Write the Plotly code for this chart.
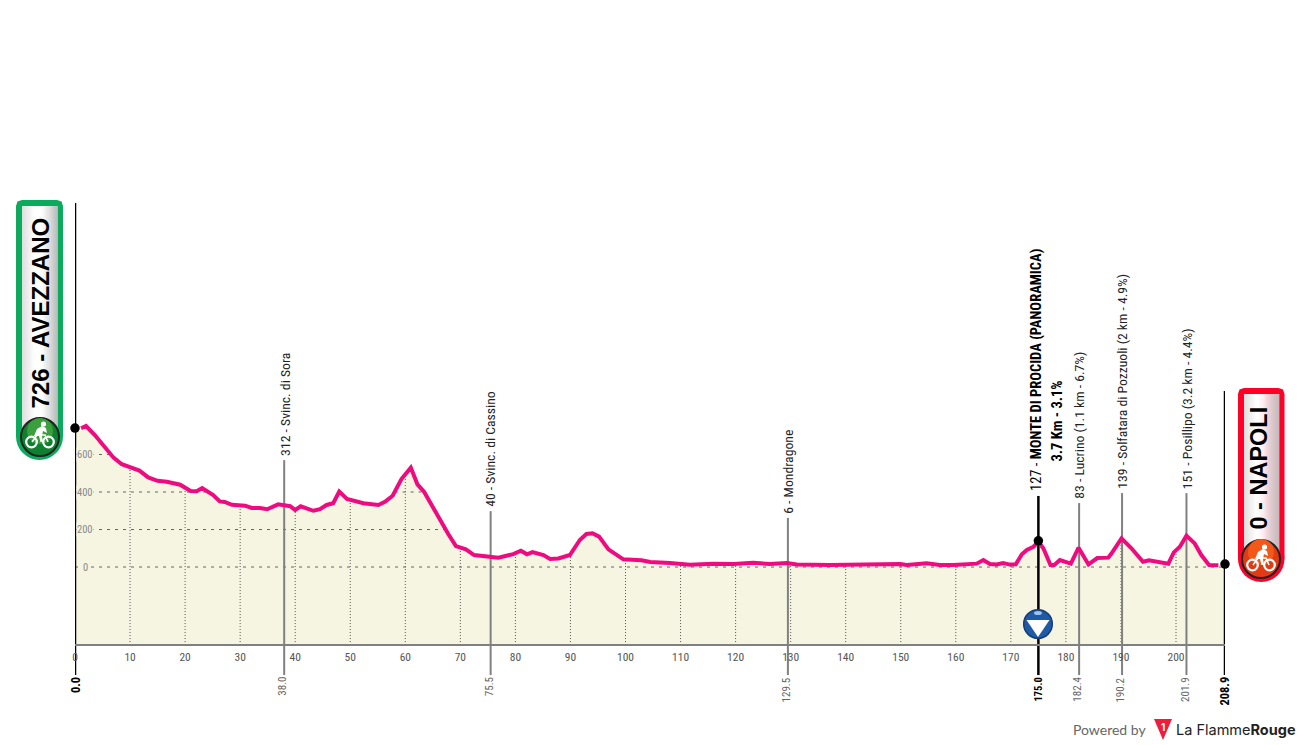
import numpy as np
import plotly.graph_objects as go

# ---------- data ----------
km = [0.0, 1.1, 2.0, 3.6, 5.1, 7.0, 8.5, 10.0, 11.7, 13.3, 15.0, 16.7, 19.1, 21.0, 22.1, 23.1, 25.1, 26.3, 27.2,
      28.5, 30.9, 32.1, 33.6, 34.9, 36.9, 39.1, 40.0, 41.0, 43.3, 44.5, 45.7, 46.9, 48.0, 49.4, 52.4, 55.1, 56.3,
      57.7, 59.3, 61.0, 62.2, 63.4, 65.4, 67.8, 69.2, 71.0, 72.5, 74.8, 76.9, 79.6, 81.0, 82.1, 83.1, 85.1, 86.3,
      87.8, 89.9, 91.7, 92.9, 94.0, 95.2, 96.9, 99.6, 102.9, 104.5, 108.1, 111.7, 115.9, 119.6, 123.2, 126.2,
      129.3, 131.1, 137.1, 145.9, 149.9, 151.1, 154.7, 157.1, 159.5, 163.8, 165.0, 166.2, 167.4, 168.6, 169.8,
      170.9, 172.0, 172.9, 174.1, 175.0, 175.9, 177.2, 177.9, 178.9, 180.9, 182.3, 184.1, 185.7, 187.7, 188.3,
      190.1, 191.9, 194.0, 195.1, 197.1, 198.6, 199.6, 200.7, 201.9, 203.4, 204.6, 206.0, 207.7, 208.9]
elev = [735, 740, 752, 704, 651, 583, 548, 532, 514, 478, 460, 455, 439, 405, 404, 421, 384, 350, 347,
        332, 327, 315, 315, 308, 334, 324, 304, 324, 300, 309, 331, 340, 402, 363, 340, 331, 348,
        380, 469, 530, 441, 402, 295, 176, 112, 94, 64, 55, 50, 69, 87, 68, 80, 64, 43,
        46, 64, 144, 176, 180, 162, 94, 41, 36, 27, 21, 12, 18, 16, 23, 16,
        21, 14, 11, 18, 16, 11, 20, 11, 11, 18, 37, 16, 14, 21, 13,
        14, 68, 91, 108, 135, 100, 11, 11, 37, 18, 103, 14, 48, 50, 73,
        153, 100, 28, 36, 23, 18, 78, 108, 167, 126, 64, 11, 9, 16]

km_ticks = list(range(0, 201, 10))
elev_ticks = [0, 200, 400, 600]

minor_km = [38.0, 75.5, 129.5, 182.4, 190.2, 201.9]
minor_top = [570, 298, 262, 341, 394, 394]
minor_km_text = ["38.0", "75.5", "129.5", "182.4", "190.2", "201.9"]
minor_text = ["312 - Svinc. di Sora", "40 - Svinc. di Cassino", "6 - Mondragone",
              "83 - Lucrino (1.1 km - 6.7%)", "139 - Solfatara di Pozzuoli (2 km - 4.9%)",
              "151 - Posillipo (3.2 km - 4.4%)"]

major_km = [0.0, 175.0, 208.9]
major_top = [1941, 379, 939]
major_elev = [741, 140, 16]
major_km_text = ["0.0", "175.0", "208.9"]

start_text = "726 - AVEZZANO"
finish_text = "0 - NAPOLI"
climb_text = "127 - <b>MONTE DI PROCIDA (PANORAMICA)</b>"
climb_sub = "<b>3.7 Km - 3.1%</b>"

# ---------- style ----------
NARROW = "Roboto Condensed, DejaVu Sans Condensed, Liberation Sans"
AREA_BOTTOM = -416
Y_MIN, Y_MAX = -709, 1941
STEM_BOTTOM = -576
L, R, T, B, AXIS = 75, 1225, 203, 700, 645


def X(px):
    return (px - L) / (R - L)


def Y(py):
    return (B - py) / (B - T)


km_a = np.array(km)
el_a = np.array(elev)
fig = go.Figure()

# area under the profile
fig.add_trace(go.Scatter(x=[km[0], km[-1]], y=[AREA_BOTTOM, AREA_BOTTOM], mode="lines", line=dict(width=0),
                         showlegend=False, hoverinfo="skip"))
fig.add_trace(go.Scatter(x=km, y=elev, mode="lines", line=dict(width=0), fill="tonexty", fillcolor="#f5f5e1",
                         showlegend=False, hoverinfo="skip"))

# vertical grid, clipped by the profile
for t in km_ticks[1:]:
    fig.add_trace(go.Scatter(x=[t, t], y=[AREA_BOTTOM, float(np.interp(t, km_a, el_a))], mode="lines",
                             line=dict(color="#555555", width=1, dash="1px,2px"), showlegend=False, hoverinfo="skip"))

# horizontal grid, clipped by the profile
for lv in elev_ticks:
    xs, ys = [], []
    inside = el_a[0] > lv
    start = km[0]
    for i in range(1, len(km)):
        now = el_a[i] > lv
        if now != inside:
            cross = km[i - 1] + (lv - elev[i - 1]) / (elev[i] - elev[i - 1]) * (km[i] - km[i - 1])
            if inside:
                xs += [start, cross, None]
                ys += [lv, lv, None]
            else:
                start = cross
            inside = now
    if inside:
        xs += [start, km[-1], None]
        ys += [lv, lv, None]
    fig.add_trace(go.Scatter(x=xs, y=ys, mode="lines", line=dict(color="#666666", width=1, dash="3px,5px"),
                             showlegend=False, hoverinfo="skip"))

# stems
for k, top in zip(minor_km, minor_top):
    fig.add_trace(go.Scatter(x=[k, k], y=[STEM_BOTTOM, top], mode="lines",
                             line=dict(color="#808080", width=2), showlegend=False, hoverinfo="skip"))
for k, top in zip(major_km, major_top):
    fig.add_trace(go.Scatter(x=[k, k], y=[STEM_BOTTOM, top], mode="lines",
                             line=dict(color="#000000", width=2.5), showlegend=False, hoverinfo="skip"))

# profile line and dots
fig.add_trace(go.Scatter(x=km[1:-1], y=elev[1:-1], mode="lines", line=dict(color="#f00a80", width=4),
                         showlegend=False, hoverinfo="skip"))
fig.add_trace(go.Scatter(x=major_km, y=major_elev, mode="markers", cliponaxis=False,
                         marker=dict(color="#000000", size=9.5), showlegend=False, hoverinfo="skip"))

ann = []
shp = []


def rot(x, y, text, size, color="#222222", family=NARROW, paper=False, xa="center", ya="bottom"):
    d = dict(x=x, y=y, text=text, textangle=-90, showarrow=False, xanchor=xa, yanchor=ya, borderpad=0, borderwidth=0,
             font=dict(family=family, size=size, color=color))
    d.update(xref="paper", yref="paper") if paper else d.update(xref="x", yref="y")
    ann.append(d)


# stem labels
for k, top, t in zip(minor_km, minor_top, minor_text):
    rot(k, top + 21, t, 13.7, "#222222")
for k, t in zip(minor_km, minor_km_text):
    rot(k - 0.2, STEM_BOTTOM - 11, t, 11, "#666666", ya="top")
for k, t, s in zip(major_km, major_km_text, [12.5, 10.5, 12.5]):
    rot(k, STEM_BOTTOM - 11, "<b>" + t + "</b>", s, "#000000", ya="top")

rot(X(1036), Y(491), climb_text, 14.5, "#000000", paper=True)
rot(X(1057), Y(462), climb_sub, 14.5, "#000000", paper=True)

# elevation labels, sitting on the area colour
for v in elev_ticks:
    ann.append(dict(x=1.9, y=v, xref="x", yref="y", text=str(v), showarrow=False, bgcolor="#f5f5e1", borderpad=0,
                    font=dict(family=NARROW, size=10.5, color="#8a8a8a")))


def rect(x0, y0, x1, y1, color):
    shp.append(dict(type="rect", xref="paper", yref="paper", x0=X(x0), x1=X(x1), y0=Y(y0), y1=Y(y1),
                    fillcolor=color, line=dict(width=0), layer="above"))


def circle(cx, cy, rx, color, ry=None, line=None, lw=0):
    ry = ry or rx
    shp.append(dict(type="circle", xref="paper", yref="paper", x0=X(cx - rx), x1=X(cx + rx), y0=Y(cy - ry),
                    y1=Y(cy + ry), fillcolor=color, line=dict(width=lw, color=line or color), layer="above"))


def poly(points, color=None, line=None, lw=0, close=True):
    p = "M " + " L ".join(f"{X(a):.5f},{Y(b):.5f}" for a, b in points) + (" Z" if close else "")
    shp.append(dict(type="path", xref="paper", yref="paper", path=p, fillcolor=color if color else "rgba(0,0,0,0)",
                    line=dict(width=lw, color=line or "rgba(0,0,0,0)"), layer="above"))


def pill(x0, x1, top, bottom, color):
    r = (x1 - x0) / 2
    c = 6
    poly([(x0, top + c), (x0 + 1.5, top + 1.5), (x0 + c, top), (x1 - c, top), (x1 - 1.5, top + 1.5), (x1, top + c),
          (x1, bottom - r), (x0, bottom - r)], color)
    circle(x0 + r, bottom - r, r, color)
    x_in0, x_in1 = x0 + 6, x1 - 5.5
    n = 36
    w = (x_in1 - x_in0) / n
    for i in range(n):
        g = int(np.interp((i + 0.5) / n, [0, 0.35, 0.55, 1], [222, 255, 255, 190]))
        rect(x_in0 + i * w, top + 6, x_in0 + (i + 1) * w + 0.4, bottom - r, f"rgb({g},{g},{g})")


def cyclist(cx, cy, s=1.0):
    for dx in (-8.5, 8.5):
        circle(cx + dx * s, cy + 5 * s, 5.3 * s, "rgba(0,0,0,0)", line="#ffffff", lw=2.2)
    poly([(cx - 8 * s, cy + 5 * s), (cx - 3 * s, cy - 2 * s), (cx + 5 * s, cy - 2 * s), (cx + 8 * s, cy + 5 * s)],
         None, "#ffffff", 1.6, close=False)
    poly([(cx - 6 * s, cy - 1 * s), (cx - 3 * s, cy - 8 * s), (cx + 2 * s, cy - 11 * s), (cx + 6 * s, cy - 9 * s),
          (cx + 7 * s, cy - 4 * s), (cx + 3 * s, cy - 6 * s), (cx + 2 * s, cy - 1 * s), (cx + 3 * s, cy + 5 * s),
          (cx + 0.5 * s, cy + 5 * s), (cx - 1 * s, cy - 1 * s)], "#ffffff")
    circle(cx + 3.5 * s, cy - 13 * s, 2.6 * s, "#ffffff")


# start pill
pill(16, 63, 200, 460, "#0baa5c")
circle(40, 437, 19, "#0f7f30", line="#222222", lw=2)
circle(40, 431, 13, "#3b9f3e")
cyclist(40, 437)
ann.append(dict(x=X(39.5), y=Y(313), xref="paper", yref="paper", text="<b>" + start_text + "</b>", textangle=-90,
                xanchor="center", yanchor="middle", showarrow=False,
                font=dict(family="Liberation Sans", size=24, color="#000000")))

# finish pill
pill(1238, 1284.5, 388, 582, "#ff0028")
circle(1261, 559, 19, "#e23a12", line="#222222", lw=2)
circle(1261, 552, 13, "#f2581a")
cyclist(1261, 560)
ann.append(dict(x=X(1258.5), y=Y(468), xref="paper", yref="paper", text="<b>" + finish_text + "</b>", textangle=-90,
                xanchor="center", yanchor="middle", showarrow=False,
                font=dict(family="Liberation Sans", size=23.5, color="#000000")))

# climb marker
circle(1038, 624, 14.3, "#1e5aa5", line="#173d78", lw=1.5)
circle(1038, 613, 4, "#9fc0e8", ry=2)
poly([(1026.5, 620), (1049.5, 620), (1038, 637)], "#ffffff")

# credit
ann.append(dict(x=X(1071), y=Y(729), xref="paper", yref="paper", text="Powered by", showarrow=False, xanchor="left",
                yanchor="middle", font=dict(family="Lato", size=14, color="#666666")))
poly([(1154, 719), (1172, 719), (1163, 740)], "#ef1c3c")
ann.append(dict(x=X(1163), y=Y(727), xref="paper", yref="paper", text="<b>1</b>", showarrow=False,
                xanchor="center", yanchor="middle", font=dict(family="Inter", size=10, color="#ffffff")))
ann.append(dict(x=X(1174), y=Y(729), xref="paper", yref="paper", text="La Flamme<b>Rouge</b>", showarrow=False,
                xanchor="left", yanchor="middle", font=dict(family="Inter", size=14.5, color="#222222")))

fig.update_layout(
    width=1300, height=745, margin=dict(l=L, r=1300 - R, t=T, b=745 - B, pad=0, autoexpand=False),
    paper_bgcolor="#ffffff", plot_bgcolor="rgba(0,0,0,0)", showlegend=False,
    xaxis=dict(range=[0, 208.9], tickvals=km_ticks, ticktext=[str(t) for t in km_ticks], showgrid=False,
               zeroline=False, showline=True, linecolor="#808080", linewidth=2, ticks="", ticklabelstandoff=1,
               tickangle=0, tickfont=dict(family=NARROW, size=11.5, color="#555555"),
               anchor="free", position=(B - AXIS) / (B - T)),
    yaxis=dict(range=[Y_MIN, Y_MAX], visible=False, tickvals=elev_ticks),
    annotations=ann, shapes=shp,
)
fig.write_html("out.html", config={"displayModeBar": False},
               post_script="document.body.style.margin='0';document.body.style.overflow='hidden';")
